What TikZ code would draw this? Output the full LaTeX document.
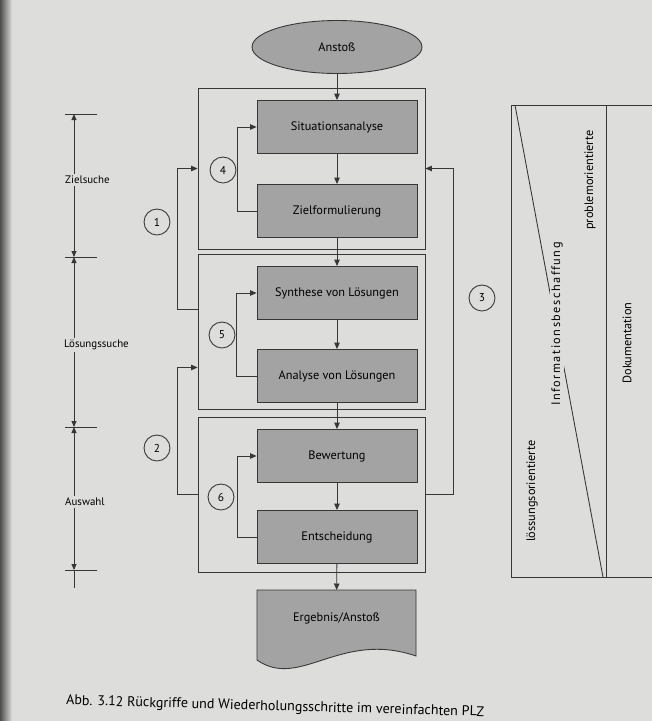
\documentclass[tikz,border=0pt]{standalone}
\usepackage{fontspec}
\setmainfont{PT Sans}
\usetikzlibrary{arrows.meta,calc,shapes.geometric}
\definecolor{paper}{RGB}{221,221,219}
\definecolor{boxgray}{RGB}{163,163,163}
\definecolor{ink}{RGB}{55,55,55}
\tikzset{
  stepbox/.style={draw=ink, fill=boxgray, minimum width=3.2cm, minimum height=1.06cm, font=\fontsize{7}{8}\selectfont},
  phasebox/.style={draw=ink, minimum width=4.54cm},
  loopnum/.style={draw=ink, circle, minimum size=0.52cm, inner sep=0pt, font=\fontsize{6.5}{7}\selectfont},
  flow/.style={draw=ink, -{Triangle[length=1.3mm,width=1.1mm]}},
  sidelabel/.style={fill=paper, inner sep=1pt, anchor=west, font=\fontsize{6.2}{7}\selectfont},
  sidetext/.style={rotate=90, inner sep=1pt, font=\fontsize{7}{8}\selectfont},
}
\begin{document}
\begin{tikzpicture}[x=0.02cm, y=-0.02cm, line width=0.5pt]
    \fill [paper] (0,0) rectangle (652,721);
    \useasboundingbox (0,0) rectangle (652,721);
    \shade [left color=black!70, right color=paper] (0,0) rectangle (12,721);

    \node [phasebox, minimum height=3.22cm] (zielphase) at (311.5,168.5) {};
    \node [phasebox, minimum height=3.1cm] (loesphase) at (311.5,331.5) {};
    \node [phasebox, minimum height=3.1cm] (auswphase) at (311.5,494.5) {};

    \node [ellipse, draw=ink, fill=boxgray, minimum width=3.4cm, minimum height=1.06cm, font=\fontsize{7}{8}\selectfont] (anstoss) at (337,47) {Anstoß};
    \node [stepbox] (situation) at (337,127) {Situationsanalyse};
    \node [stepbox] (ziel) at (337,211) {Zielformulierung};
    \node [stepbox] (synthese) at (337,293) {Synthese von Lösungen};
    \node [stepbox] (analyse) at (337,376) {Analyse von Lösungen};
    \node [stepbox] (bewertung) at (337,456) {Bewertung};
    \node [stepbox] (entscheidung) at (337,537) {Entscheidung};

    \draw [draw=ink, fill=boxgray] (257,590) -- (416,590) -- (416,656) .. controls (340,630) and (300,690) .. (257,660) -- cycle;
    \node [minimum width=3.18cm, minimum height=1.1cm, anchor=north, font=\fontsize{7}{8}\selectfont] (ergebnis) at (336.5,590) {Ergebnis/Anstoß};

    \draw [flow] (anstoss) -- (situation);
    \foreach \a/\b in {situation/ziel, ziel/synthese, synthese/analyse, analyse/bewertung, bewertung/entscheidung, entscheidung/ergebnis}
        \draw [flow] (\a) -- (\b);

    \draw [flow] (ziel.west) -- ++(-19,0) |- (situation.west);
    \draw [flow] (analyse.west) -- ++(-20,0) |- (synthese.west);
    \draw [flow] (entscheidung.west) -- ++(-19,0) |- (bewertung.west);

    \draw [flow] ($(loesphase.west)+(0,-22)$) -- ++(-20,0) |- (zielphase.west);
    \draw [flow] (auswphase.west) -- ++(-20,0) |- ($(loesphase.west)+(0,36)$);
    \draw [flow] (auswphase.east) -- ++(28,0) |- (zielphase.east);

    \node [loopnum] (r1) at (157,222) {1};
    \node [loopnum] (r2) at (157,448) {2};
    \node [loopnum] (r3) at (482,298) {3};
    \node [loopnum] (r4) at (223,170) {4};
    \node [loopnum] (r5) at (222,335) {5};
    \node [loopnum] (r6) at (221,497) {6};

    \foreach \y in {114,257,427,570}
        \draw [ink] (65,\y) -- (97,\y);
    \foreach \a/\b in {114/257,257/427,427/570}
        \draw [ink, {Triangle[length=1.2mm,width=1mm]}-{Triangle[length=1.2mm,width=1mm]}] (74,\a) -- (74,\b);
    \draw [ink] (74,570) -- (74,588);
    \node [sidelabel] (zielsuche) at (63,180) {Zielsuche};
    \node [sidelabel] (loesungssuche) at (62,345) {Lösungssuche};
    \node [sidelabel] (auswahl) at (63,502) {Auswahl};

    \draw [ink] (652,105) -- (511,105) -- (511,577) -- (652,577);
    \draw [ink] (606,105) -- (606,577);
    \draw [ink] (515,105) -- (603,577);
    \node [sidetext, fill=paper] (info) at (557,324) {\addfontfeature{LetterSpace=12}Informationsbeschaffung};
    \node [sidetext] (problem) at (590,180) {problemorientierte};
    \node [sidetext] (loesung) at (532,491) {lössungsorientierte};
    \node [sidetext] (doku) at (627,343) {Dokumentation};

    \node [anchor=west, rotate=-1.6, font=\fontsize{8}{9}\selectfont] (caption) at (60,701) {Abb. 3.12 Rückgriffe und Wiederholungsschritte im vereinfachten PLZ};
\end{tikzpicture}
\end{document}
